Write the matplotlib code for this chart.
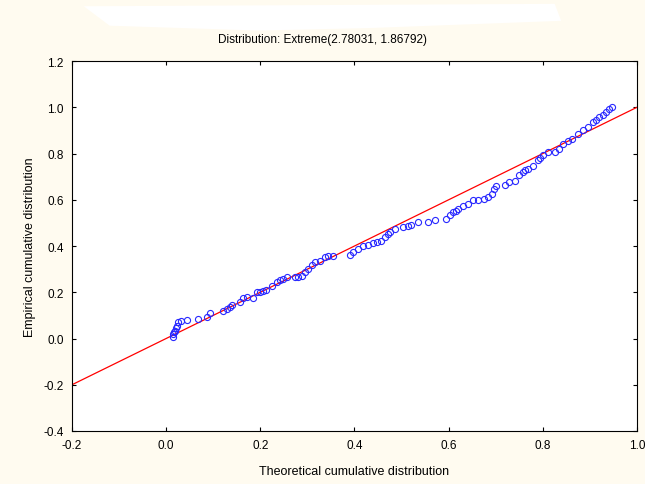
import matplotlib
matplotlib.use('Agg')
from matplotlib import pyplot as plt
from matplotlib.patches import Polygon

# theoretical vs empirical cumulative distribution
theo_cdf = [0.014, 0.015, 0.017, 0.019, 0.021, 0.023, 0.025, 0.031, 0.044, 0.068,
            0.086, 0.093, 0.121, 0.130, 0.136, 0.139, 0.157, 0.163, 0.172, 0.184,
            0.192, 0.199, 0.206, 0.213, 0.224, 0.235, 0.242, 0.249, 0.256, 0.273,
            0.280, 0.288, 0.295, 0.302, 0.309, 0.316, 0.326, 0.337, 0.344, 0.355,
            0.390, 0.397, 0.408, 0.418, 0.429, 0.439, 0.447, 0.457, 0.464, 0.471,
            0.475, 0.485, 0.503, 0.514, 0.521, 0.535, 0.556, 0.570, 0.595, 0.602,
            0.609, 0.615, 0.620, 0.630, 0.641, 0.651, 0.662, 0.676, 0.683, 0.691,
            0.697, 0.701, 0.719, 0.729, 0.740, 0.750, 0.757, 0.763, 0.768, 0.779,
            0.789, 0.795, 0.800, 0.810, 0.825, 0.835, 0.842, 0.853, 0.863, 0.874,
            0.885, 0.895, 0.906, 0.913, 0.920, 0.927, 0.934, 0.941, 0.946]
emp_cdf = [0.006, 0.019, 0.026, 0.032, 0.045, 0.055, 0.071, 0.077, 0.081, 0.084,
           0.093, 0.110, 0.120, 0.126, 0.136, 0.146, 0.158, 0.175, 0.178, 0.175,
           0.201, 0.201, 0.205, 0.211, 0.229, 0.245, 0.252, 0.258, 0.265, 0.265,
           0.265, 0.272, 0.287, 0.301, 0.318, 0.330, 0.337, 0.352, 0.358, 0.358,
           0.361, 0.376, 0.387, 0.399, 0.405, 0.413, 0.416, 0.423, 0.438, 0.452,
           0.460, 0.474, 0.481, 0.488, 0.491, 0.503, 0.506, 0.514, 0.517, 0.532,
           0.546, 0.553, 0.561, 0.575, 0.582, 0.597, 0.597, 0.604, 0.611, 0.626,
           0.647, 0.661, 0.665, 0.676, 0.683, 0.705, 0.719, 0.727, 0.734, 0.748,
           0.770, 0.782, 0.794, 0.806, 0.806, 0.820, 0.842, 0.856, 0.864, 0.885,
           0.900, 0.914, 0.936, 0.943, 0.958, 0.965, 0.979, 0.994, 1.001]
line_x = [-0.2, 1.0]
line_y = [-0.2, 1.0]

xticks = [-0.2, 0.0, 0.2, 0.4, 0.6, 0.8, 1.0]
yticks = [-0.4, -0.2, 0.0, 0.2, 0.4, 0.6, 0.8, 1.0, 1.2]

plt.rcParams['font.family'] = ['Liberation Sans', 'DejaVu Sans']
plt.rcParams['font.size'] = 8

fig = plt.figure(figsize=(6.45, 4.85), dpi=100, facecolor='#fffbf0')
# white smudge at the top of the original
fig.patches.append(Polygon([(0.13, 0.985), (0.86, 0.99), (0.87, 0.955), (0.57, 0.94),
                            (0.40, 0.935), (0.17, 0.945)], closed=True,
                           transform=fig.transFigure, facecolor='white',
                           edgecolor='none', zorder=0))
ax = fig.add_axes([0.1116, 0.1093, 0.876, 0.7628])
ax.set_facecolor('white')

ax.plot(line_x, line_y, color='#ff0000', lw=0.9, zorder=2)
ax.plot(theo_cdf, emp_cdf, ls='none', marker='o', ms=4.4, mfc='none',
        mec='#2828ff', mew=0.8, zorder=3)

ax.set_xlim(-0.2, 1.0)
ax.set_ylim(-0.4, 1.2)
ax.set_xticks(xticks)
ax.set_yticks(yticks)
ax.set_xticklabels(['%.1f' % v for v in xticks])
ax.set_yticklabels(['%.1f' % v for v in yticks])
ax.tick_params(direction='in', length=3, width=0.8, top=True, right=True,
               labelsize=8.5, pad=6)
for s in ax.spines.values():
    s.set_linewidth(0.8)
    s.set_color('black')

fig.text(0.5, 0.918, 'Distribution: Extreme(2.78031, 1.86792)', fontsize=8.5,
         ha='center', va='center')
ax.set_xlabel('Theoretical cumulative distribution', fontsize=9, labelpad=10)
ax.set_ylabel('Empirical cumulative distribution', fontsize=9, labelpad=5)

plt.savefig('out.png', dpi=100, facecolor=fig.get_facecolor())
